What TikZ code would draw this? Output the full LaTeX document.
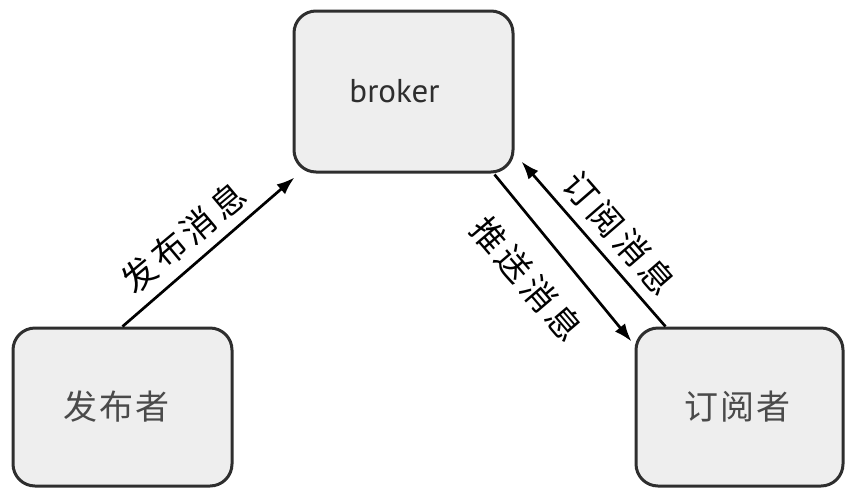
\documentclass[tikz,border=0pt]{standalone}
\usepackage{fontspec}
\setmainfont{PT Sans}
\newfontfamily\cjk{Noto Sans CJK SC}
\newfontfamily\cjkwide[LetterSpace=13]{Noto Sans CJK SC}
\newfontfamily\cjkbox[LetterSpace=6]{Noto Sans CJK SC}
\usetikzlibrary{arrows.meta}
\definecolor{boxfill}{HTML}{EEEEEE}
\definecolor{boxline}{HTML}{2E2E2E}
\definecolor{labgray}{HTML}{4A4A4A}
\tikzset{
  box/.style={draw=boxline, line width=3pt, fill=boxfill, rounded corners=22pt, inner sep=0pt},
  conn/.style={line width=2.7pt, draw=black, -{Latex[length=18pt,width=13pt]}},
  arrlab/.style={font=\cjkwide\fontsize{34pt}{36pt}\selectfont, text=black, inner sep=0pt},
}
\begin{document}
\begin{tikzpicture}[x=1pt,y=-1pt]
\useasboundingbox (0,0) rectangle (846,488);
\node[box, minimum width=219pt, minimum height=161pt, font=\fontsize{33pt}{36pt}\selectfont, text=boxline] (broker) at (403.5,91.5) {broker\hspace*{18pt}};
\node[box, minimum width=219pt, minimum height=158pt, font=\cjkbox\fontsize{34pt}{36pt}\selectfont, text=labgray] (pub) at (122.5,407) {发布者\hspace*{12pt}};
\node[box, minimum width=207pt, minimum height=158pt, font=\cjkbox\fontsize{34pt}{36pt}\selectfont, text=labgray] (sub) at (739.5,407) {订阅者\hspace*{4pt}};
\coordinate (pubtip) at ([shift={(2pt,-4pt)}]broker.south west);
\coordinate (pushstart) at ([shift={(-20pt,-1pt)}]broker.south east);
\coordinate (pushtip) at ([shift={(-3pt,-15pt)}]sub.north west);
\coordinate (substart) at ([shift={(31pt,0pt)}]sub.north west);
\coordinate (subtip) at ([shift={(7pt,12pt)}]broker.south east);
\draw[conn] (pub.north) -- (pubtip);
\draw[conn] (pushstart) -- (pushtip);
\draw[conn] (substart) -- (subtip);
\node[arrlab, rotate=40] (l1) at (183.5,237.5) {发布消息};
\node[arrlab, rotate=-49.5] (l2) at (527,279) {推送消息};
\node[arrlab, rotate=-49] (l3) at (619.5,233) {订阅消息};
\end{tikzpicture}
\end{document}
